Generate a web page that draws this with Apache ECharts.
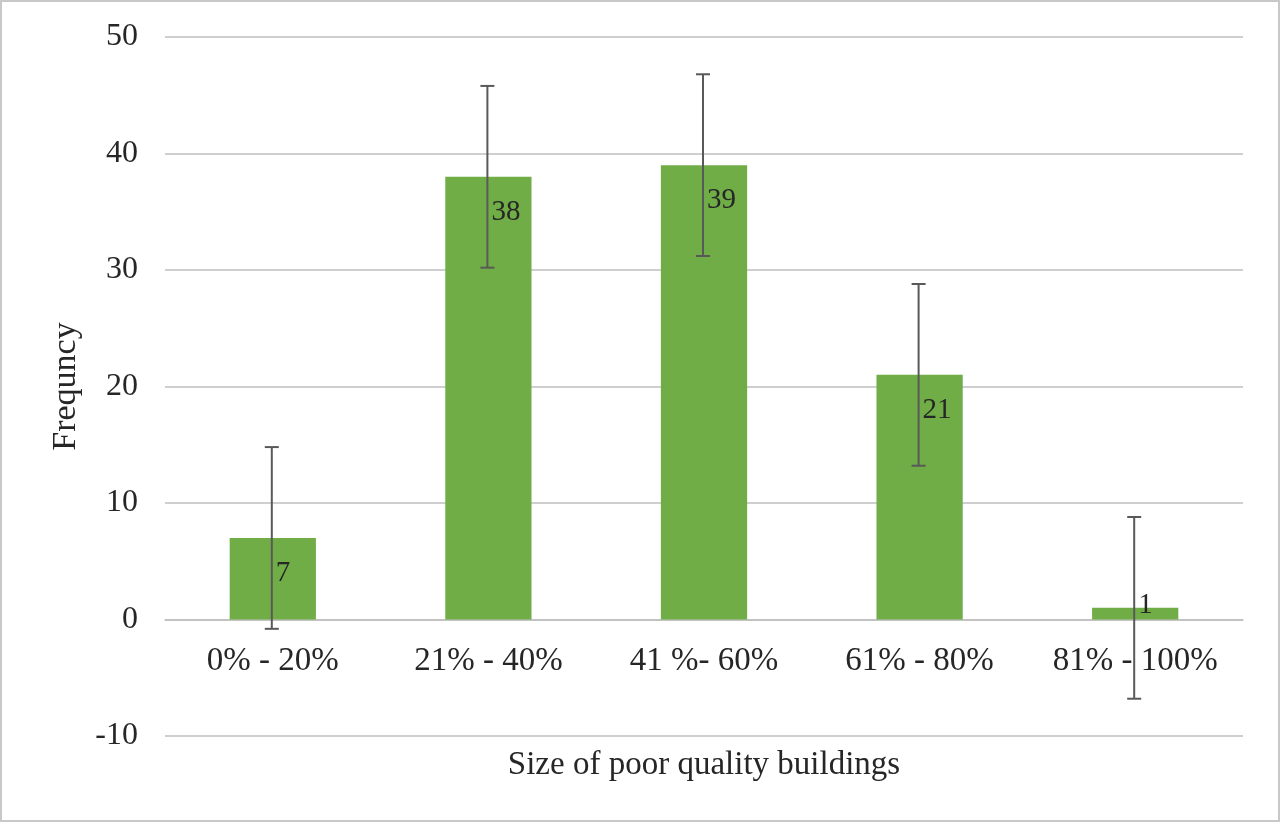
<!DOCTYPE html>
<html><head><meta charset="utf-8">
<script src="https://cdn.jsdelivr.net/npm/echarts@6/dist/echarts.min.js"></script>
<style>
html,body{margin:0;padding:0;background:#fff;}
#c{width:1276px;height:818px;border:2px solid #c8c8c8;}
</style></head>
<body><div id="c"></div>
<script>
const categories = ['0% - 20%', '21% - 40%', '41 %- 60%', '61% - 80%', '81% - 100%'];
const values = [7, 38, 39, 21, 1];
const errorPlusMinus = [7.8, 7.8, 7.8, 7.8, 7.8];
const yTicks = {min: -10, max: 50, interval: 10};

const chart = echarts.init(document.getElementById('c'));
const font = '"Liberation Serif", "Times New Roman", serif';
const gridTop = 35, gridBottom = 84, chartH = 818;
const plotH = chartH - gridTop - gridBottom;
const zeroOffset = -plotH * (0 - yTicks.min) / (yTicks.max - yTicks.min);

const barData = values.map((v, i) => {
  const item = {value: v};
  if (v < 3) item.label = {position: 'insideTop', distance: -17};
  return item;
});
const errData = values.map((v, i) => [i, v - errorPlusMinus[i], v + errorPlusMinus[i]]);

chart.setOption({
  animation: false,
  grid: {left: 163, right: 35, top: gridTop, bottom: gridBottom, outerBoundsMode: 'none', containLabel: false},
  xAxis: {
    type: 'category', data: categories,
    offset: zeroOffset,
    name: 'Size of poor quality buildings', nameLocation: 'middle', nameGap: 129,
    nameTextStyle: {fontFamily: font, fontSize: 33, color: '#262626'},
    axisLine: {onZero: false, lineStyle: {color: '#bfbfbf', width: 1.5}},
    axisTick: {show: false},
    axisLabel: {fontFamily: font, fontSize: 33, color: '#262626', margin: 25}
  },
  yAxis: {
    type: 'value', min: yTicks.min, max: yTicks.max, interval: yTicks.interval,
    name: 'Frequncy', nameLocation: 'middle', nameGap: 82,
    nameTextStyle: {fontFamily: font, fontSize: 34, color: '#262626'},
    axisLine: {show: false}, axisTick: {show: false},
    axisLabel: {fontFamily: font, fontSize: 32, color: '#262626', margin: 27},
    splitLine: {lineStyle: {color: '#bfbfbf', width: 1.5}}
  },
  series: [
    {
      type: 'bar', data: barData, barWidth: '40%',
      itemStyle: {color: '#70ad47'},
      label: {show: true, position: 'insideTop', distance: 21, align: 'left', offset: [3, 0],
        fontFamily: font, fontSize: 29, color: '#262626'}
    },
    {
      type: 'custom', data: errData, z: 10,
      renderItem: function (params, api) {
        const x = api.value(0);
        const lo = api.coord([x, api.value(1)]);
        const hi = api.coord([x, api.value(2)]);
        const cx = lo[0] - 1;
        const hw = 7;
        const st = {stroke: '#595959', lineWidth: 2};
        return {type: 'group', children: [
          {type: 'line', shape: {x1: cx, y1: lo[1], x2: cx, y2: hi[1]}, style: st},
          {type: 'line', shape: {x1: cx - hw, y1: lo[1], x2: cx + hw, y2: lo[1]}, style: st},
          {type: 'line', shape: {x1: cx - hw, y1: hi[1], x2: cx + hw, y2: hi[1]}, style: st}
        ]};
      }
    }
  ]
});
</script></body></html>
